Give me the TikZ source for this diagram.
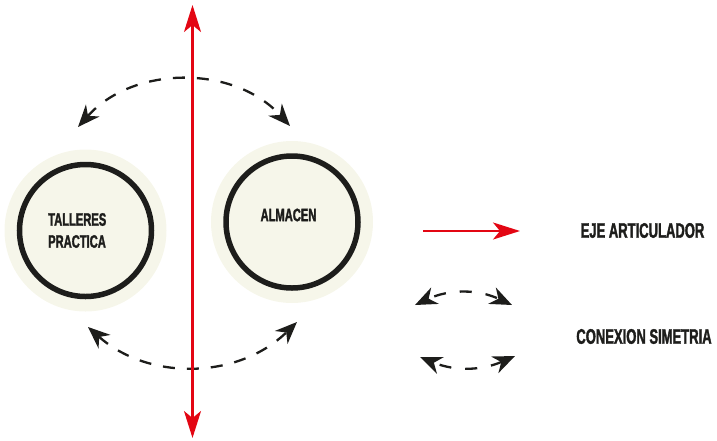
\documentclass[tikz,border=0pt]{standalone}
\usepackage{fontspec}
\newfontfamily\letrero[FakeStretch=0.62,FakeBold=1.6]{Liberation Sans}
\usetikzlibrary{arrows.meta,positioning,calc}
\definecolor{crema}{RGB}{246,246,234}
\definecolor{tinta}{RGB}{29,29,27}
\definecolor{rojo}{RGB}{227,6,19}

\begin{document}
\begin{tikzpicture}[x=1pt,y=-1pt,>={Stealth[length=22pt,width=18pt,inset=7pt]},
 halo/.style={circle, fill=crema, minimum size=162pt, inner sep=0pt},
 anillo/.style={circle, draw=tinta, line width=5.5pt, fill=crema, minimum size=132pt, inner sep=0pt},
 rotulo/.style={font=\letrero\bfseries\fontsize{18}{22}\selectfont, text=tinta, inner sep=0pt, align=left},
 leyenda/.style={font=\letrero\bfseries\fontsize{21}{24}\selectfont, text=tinta, inner sep=0pt},
 simetria/.style={<->, draw=tinta, line width=2.3pt, dash pattern=on 12pt off 12pt},
 eje/.style={draw=rojo, line width=2.2pt, >={Stealth[length=27pt,width=17pt,inset=7pt]}}]
\useasboundingbox (0,0) rectangle (717,440);
% espacios
\node[halo] (haloT) at (85.5,230.5) {};
\node[anillo] (talleres) at (haloT) {};
\node[halo] (haloA) at (292,222) {};
\node[anillo] (almacen) at (haloA) {};
\node[rotulo, anchor=west] (txtT) at (48,230.5) {TALLERES\\PRACTICA};
\node[rotulo] (txtA) at (288.5,215) {ALMACEN};
% conexiones de simetria
\coordinate (arcNO) at (78,127);
\coordinate (arcNE) at (290,126);
\coordinate (arcSO) at (88,327);
\coordinate (arcSE) at (297,322);
\draw[simetria] (arcNO) to[bend left=48] (arcNE);
\draw[simetria] (arcSO) to[bend right=43] (arcSE);
% eje articulador
\coordinate (norte) at (192.5,5);
\coordinate (sur) at (192.5,438);
\draw[eje,<->] (sur) -- (norte);
% leyenda
\coordinate (ejeA) at (423,231);
\coordinate (ejeB) at (520,231);
\draw[eje,->] (ejeA) -- (ejeB);
\node[leyenda] (txtEje) at (642.5,230.5) {EJE ARTICULADOR};
\coordinate (leyNO) at (415,305);
\coordinate (leyNE) at (512,305);
\coordinate (leySO) at (420,357);
\coordinate (leySE) at (515,356);
\draw[simetria, dash pattern=on 12pt off 14pt, dash phase=-7pt] (leyNO) to[bend left=25] (leyNE);
\draw[simetria, dash pattern=on 12pt off 14pt, dash phase=-7pt] (leySO) to[bend right=23] (leySE);
\node[leyenda] (txtSim) at (644,336.5) {CONEXION SIMETRIA};
\end{tikzpicture}
\end{document}
